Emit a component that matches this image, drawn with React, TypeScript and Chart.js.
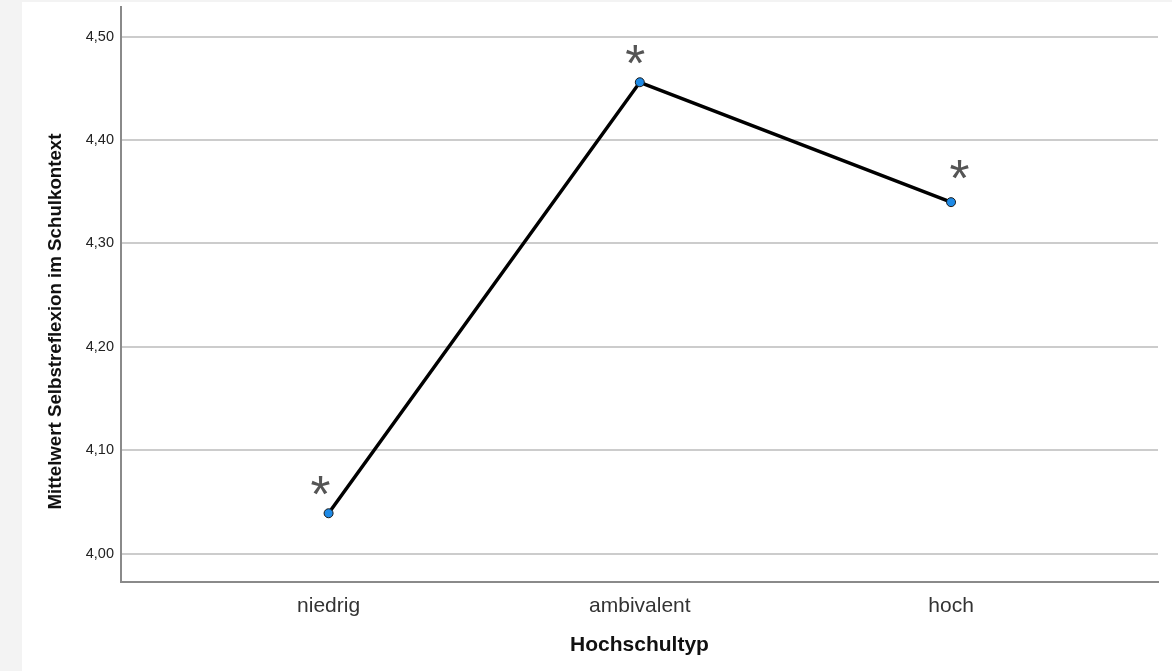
import React, { useEffect, useRef } from "react";
import { Chart, registerables } from "chart.js";

Chart.register(...registerables);

const categories = ["niedrig", "ambivalent", "hoch"];
const meanValues = [4.039, 4.456, 4.34];
const yTickValues = [4.0, 4.1, 4.2, 4.3, 4.4, 4.5];
// significance markers (category position, value)
const markerX = [-0.026, 0.9855, 2.027];
const markerY = [4.0659, 4.4826, 4.3716];
const markerText = ["*", "*", "*"];
const xTitle = "Hochschultyp";
const yTitle = "Mittelwert Selbstreflexion im Schulkontext";

const FONT = "'Liberation Sans', Arial, sans-serif";

export default function App() {
  const ref = useRef<HTMLCanvasElement | null>(null);

  useEffect(() => {
    if (!ref.current) return;
    const overlay = {
      id: "overlay",
      afterDatasetsDraw(chart: any) {
        const ctx = chart.ctx;
        const xs = chart.scales.x;
        const ys = chart.scales.y;
        const ca = chart.chartArea;
        ctx.save();
        // markers
        ctx.fillStyle = "#555555";
        ctx.font = `100px ${FONT}`;
        const m0 = ctx.measureText("*");
        const gw = m0.actualBoundingBoxRight + m0.actualBoundingBoxLeft;
        const size = (19 / gw) * 100;
        ctx.font = `${size}px ${FONT}`;
        ctx.textAlign = "left";
        ctx.textBaseline = "alphabetic";
        markerText.forEach((t, i) => {
          const cx = xs.getPixelForValue(markerX[i]);
          const cy = ys.getPixelForValue(markerY[i]);
          const m = ctx.measureText(t);
          const x = cx - (m.actualBoundingBoxRight - m.actualBoundingBoxLeft) / 2;
          const y = cy + (m.actualBoundingBoxAscent - m.actualBoundingBoxDescent) / 2;
          ctx.fillText(t, x, y);
        });
        // titles
        ctx.fillStyle = "#111111";
        ctx.font = `bold 21px ${FONT}`;
        ctx.textAlign = "center";
        ctx.textBaseline = "middle";
        ctx.fillText(xTitle, (ca.left + ca.right) / 2, 645);
        ctx.translate(56, 321.5);
        ctx.rotate(-Math.PI / 2);
        ctx.font = `bold 18.7px ${FONT}`;
        ctx.fillText(yTitle, 0, 0);
        ctx.restore();
      },
    };

    const chart = new Chart(ref.current, {
      type: "line",
      data: {
        datasets: [
          {
            data: categories.map((_, i) => ({ x: i, y: meanValues[i] })),
            borderColor: "#000000",
            borderWidth: 3.5,
            tension: 0,
            pointRadius: 4.5,
            pointBackgroundColor: "#1e8ae6",
            pointBorderColor: "#1a1a1a",
            pointBorderWidth: 1,
            fill: false,
          },
        ],
      },
      options: {
        animation: false,
        responsive: false,
        maintainAspectRatio: false,
        layout: { padding: { top: 7, right: 14, left: 0, bottom: 0 } },
        plugins: { legend: { display: false }, tooltip: { enabled: false } },
        scales: {
          x: {
            type: "linear",
            min: -0.667,
            max: 2.665,
            afterBuildTicks: (s: any) => {
              s.ticks = categories.map((_, i) => ({ value: i }));
            },
            afterFit: (s: any) => {
              s.height = 89;
              s.paddingLeft = 0;
              s.paddingRight = 0;
            },
            ticks: {
              callback: (v: any) => categories[v] ?? "",
              font: { family: FONT, size: 21 },
              color: "#333333",
              padding: 12,
              maxRotation: 0,
              autoSkip: false,
            },
            grid: { display: false, drawTicks: false },
            border: { display: true, color: "#8a8a8a", width: 2 },
          },
          y: {
            type: "linear",
            min: 3.9725,
            max: 4.5288,
            afterBuildTicks: (s: any) => {
              s.ticks = yTickValues.map((v) => ({ value: v }));
            },
            afterFit: (s: any) => {
              s.width = 121;
              s.paddingTop = 0;
              s.paddingBottom = 0;
            },
            ticks: {
              callback: (v: any) => Number(v).toFixed(2).replace(".", ","),
              font: { family: FONT, size: 14.5 },
              color: "#222222",
              padding: 7,
            },
            grid: { color: "#cccccc", lineWidth: 2, drawTicks: false },
            border: { display: true, color: "#8a8a8a", width: 2 },
          },
        },
      },
      plugins: [overlay],
    });
    return () => chart.destroy();
  }, []);

  return (
    <div style={{ position: "fixed", left: 0, top: 0, width: 1172, height: 671, background: "#f3f3f3" }}>
      <div style={{ position: "absolute", left: 22, top: 2, right: 0, bottom: 0, background: "#ffffff" }} />
      <canvas
        ref={ref}
        width={1172}
        height={671}
        style={{ position: "absolute", left: 0, top: 0, width: 1172, height: 671 }}
      />
    </div>
  );
}
